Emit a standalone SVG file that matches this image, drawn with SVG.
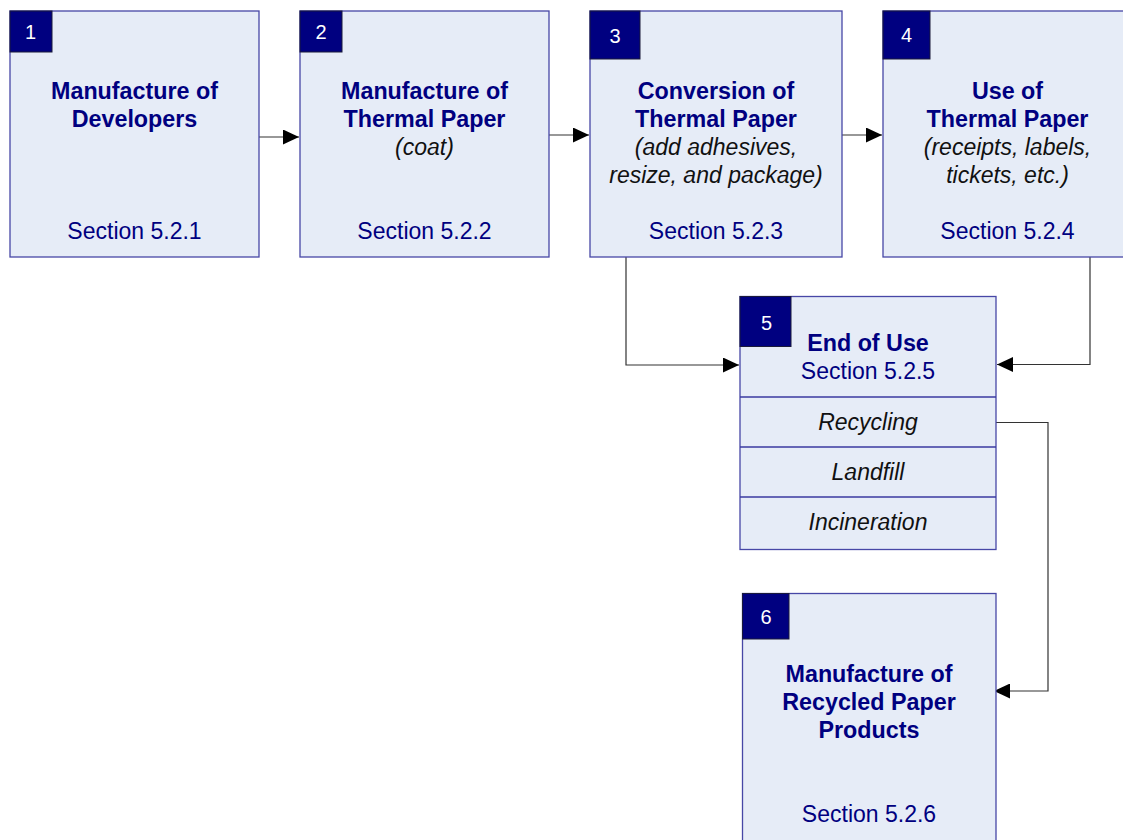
<svg xmlns="http://www.w3.org/2000/svg" width="1123" height="840" viewBox="0 0 1123 840">
<style>
  .box { fill: #E6ECF7; stroke: #4747A6; stroke-width: 1.3; }
  .div { stroke: #3A3AA0; stroke-width: 1.3; }
  .num { fill: #000080; stroke: #1a1a3a; stroke-width: 1; }
  .numt { font-family: "Liberation Sans", Arial, sans-serif; font-size: 20px; fill: #ffffff; text-anchor: middle; }
  .t { font-family: "Liberation Sans", Arial, sans-serif; font-size: 23.3px; font-weight: bold; fill: #000080; text-anchor: middle; }
  .s { font-family: "Liberation Sans", Arial, sans-serif; font-size: 23px; fill: #000080; text-anchor: middle; }
  .i { font-family: "Liberation Sans", Arial, sans-serif; font-size: 23px; font-style: italic; fill: #111111; text-anchor: middle; }
  .c { fill: none; stroke: #333333; stroke-width: 1.2; }
</style>
<defs>
  <marker id="ah" markerUnits="userSpaceOnUse" markerWidth="17" markerHeight="15" refX="16" refY="7.5" orient="auto">
    <path d="M0,0 L16,7.5 L0,15 Z" fill="#000000"/>
  </marker>
</defs>
<rect width="1123" height="840" fill="#ffffff"/>

<g id="connectors">
  <path class="c" d="M259,137 H299" marker-end="url(#ah)"/>
  <path class="c" d="M549,135 H589" marker-end="url(#ah)"/>
  <path class="c" d="M842,135 H882" marker-end="url(#ah)"/>
  <path class="c" d="M626,257 V365 H739" marker-end="url(#ah)"/>
  <path class="c" d="M1090,257 V364.5 H997" marker-end="url(#ah)"/>
  <path class="c" d="M996,422.5 H1048 V691 H994" marker-end="url(#ah)"/>
</g>

<g id="node1">
  <rect class="box" x="10" y="11" width="249" height="246"/>
  <rect class="num" x="10" y="11" width="42" height="41"/>
  <text class="numt" x="30.5" y="38.5">1</text>
  <text class="t" x="134.5" y="99">Manufacture of</text>
  <text class="t" x="134.5" y="127">Developers</text>
  <text class="s" x="134.5" y="239">Section 5.2.1</text>
</g>

<g id="node2">
  <rect class="box" x="300" y="11" width="249" height="246"/>
  <rect class="num" x="300" y="11" width="42" height="41"/>
  <text class="numt" x="321" y="38.5">2</text>
  <text class="t" x="424.5" y="99">Manufacture of</text>
  <text class="t" x="424.5" y="127">Thermal Paper</text>
  <text class="i" x="424.5" y="155">(coat)</text>
  <text class="s" x="424.5" y="239">Section 5.2.2</text>
</g>

<g id="node3">
  <rect class="box" x="590" y="11" width="252" height="246"/>
  <rect class="num" x="590" y="11" width="50" height="48"/>
  <text class="numt" x="615" y="42.5">3</text>
  <text class="t" x="716" y="99">Conversion of</text>
  <text class="t" x="716" y="127">Thermal Paper</text>
  <text class="i" x="716" y="155">(add adhesives,</text>
  <text class="i" x="716" y="183">resize, and package)</text>
  <text class="s" x="716" y="239">Section 5.2.3</text>
</g>

<g id="node4">
  <rect class="box" x="883" y="11" width="249" height="246"/>
  <rect class="num" x="883" y="11" width="47" height="48"/>
  <text class="numt" x="906.5" y="41.5">4</text>
  <text class="t" x="1007.5" y="99">Use of</text>
  <text class="t" x="1007.5" y="127">Thermal Paper</text>
  <text class="i" x="1007.5" y="155">(receipts, labels,</text>
  <text class="i" x="1007.5" y="183">tickets, etc.)</text>
  <text class="s" x="1007.5" y="239">Section 5.2.4</text>
</g>

<g id="node5">
  <rect class="box" x="740" y="296.5" width="256" height="253"/>
  <line class="div" x1="740" y1="397" x2="996" y2="397"/>
  <line class="div" x1="740" y1="447" x2="996" y2="447"/>
  <line class="div" x1="740" y1="497" x2="996" y2="497"/>
  <rect class="num" x="740" y="296.5" width="51" height="50"/>
  <text class="numt" x="766.5" y="329.5">5</text>
  <text class="t" x="868" y="351">End of Use</text>
  <text class="s" x="868" y="379">Section 5.2.5</text>
  <text class="i" x="868" y="430">Recycling</text>
  <text class="i" x="868" y="480">Landfill</text>
  <text class="i" x="868" y="530">Incineration</text>
</g>

<g id="node6">
  <rect class="box" x="742.5" y="593.5" width="253.5" height="260"/>
  <rect class="num" x="742.5" y="593.5" width="46.5" height="45.5"/>
  <text class="numt" x="766" y="623.5">6</text>
  <text class="t" x="869" y="682">Manufacture of</text>
  <text class="t" x="869" y="710">Recycled Paper</text>
  <text class="t" x="869" y="738">Products</text>
  <text class="s" x="869" y="822">Section 5.2.6</text>
</g>
</svg>
